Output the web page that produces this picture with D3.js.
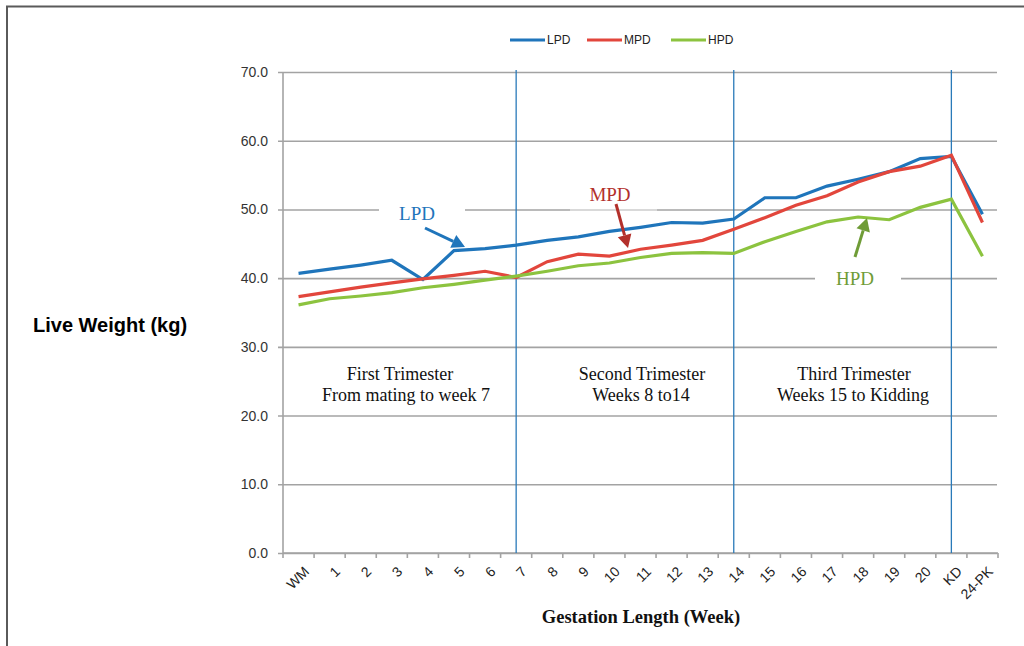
<!DOCTYPE html>
<html>
<head>
<meta charset="utf-8">
<script src="https://cdn.jsdelivr.net/npm/d3@7"></script>
<style>
  html, body { margin: 0; padding: 0; background: #fff; }
  svg { display: block; }
</style>
</head>
<body>
<svg id="chart" width="1024" height="646"></svg>
<script>
const categories = ["WM","1","2","3","4","5","6","7","8","9","10","11","12","13","14","15","16","17","18","19","20","KD","24-PK"];
const lpd = [40.7, 41.3, 41.9, 42.6, 39.8, 44.0, 44.3, 44.8, 45.5, 46.0, 46.8, 47.4, 48.1, 48.0, 48.6, 51.7, 51.7, 53.4, 54.4, 55.5, 57.4, 57.7, 49.3];
const mpd = [37.3, 38.0, 38.7, 39.3, 39.9, 40.4, 41.0, 40.1, 42.4, 43.5, 43.2, 44.2, 44.8, 45.5, 47.1, 48.8, 50.6, 52.0, 54.0, 55.5, 56.3, 57.9, 48.1];
const hpd = [36.1, 37.0, 37.4, 37.9, 38.6, 39.1, 39.7, 40.3, 41.0, 41.8, 42.2, 43.0, 43.6, 43.7, 43.6, 45.3, 46.8, 48.2, 48.9, 48.5, 50.3, 51.5, 43.2];
const yTicks = [0, 10, 20, 30, 40, 50, 60, 70];
const seriesNames = ["LPD", "MPD", "HPD"];
const seriesColors = ["#1f75bb", "#e2463c", "#8cc33f"];
const dividers = ["7", "14", "KD"];
const trimesterLines = [
  ["First Trimester", "From mating to week 7"],
  ["Second Trimester", "Weeks 8 to14"],
  ["Third Trimester", "Weeks 15 to Kidding"]
];

(function () {
const svg = d3.select("#chart");
const pLeft = 283, pRight = 998, pTop = 72, pBottom = 553;
const x = d3.scaleBand().domain(categories).range([pLeft, pRight]).padding(0);
const y = d3.scaleLinear().domain([0, 70]).range([pBottom, pTop]);
const cx = c => x(c) + x.bandwidth() / 2;

// frame
svg.append("line").attr("x1", 6).attr("x2", 1024).attr("y1", 6.5).attr("y2", 6.5)
  .attr("stroke", "#5a5a5a").attr("stroke-width", 2);
svg.append("line").attr("x1", 7).attr("x2", 7).attr("y1", 6).attr("y2", 646)
  .attr("stroke", "#5a5a5a").attr("stroke-width", 2);

// gridlines + y axis
const yAxis = d3.axisLeft(y).tickValues(yTicks).tickFormat(d3.format(".1f"))
  .tickSizeInner(-(pRight - 1 - pLeft)).tickSizeOuter(0).tickPadding(15);
const gy = svg.append("g").attr("transform", `translate(${pLeft},0)`).call(yAxis);
gy.select(".domain").remove();
gy.selectAll(".tick line").attr("stroke", "#a3a3a3").attr("stroke-width", 1.6).attr("x1", -5);
gy.selectAll(".tick text").attr("fill", "#333").attr("font-family", "Liberation Sans, Arial, sans-serif")
  .attr("font-size", 14);
svg.append("line").attr("x1", pLeft).attr("x2", pLeft).attr("y1", pTop).attr("y2", pBottom)
  .attr("stroke", "#a3a3a3").attr("stroke-width", 1.6);

// x axis
svg.append("line").attr("x1", pLeft).attr("x2", pRight).attr("y1", pBottom).attr("y2", pBottom)
  .attr("stroke", "#a3a3a3").attr("stroke-width", 1.6);
const bounds = categories.map(c => x(c)).concat([pRight]);
svg.append("g").selectAll("line").data(bounds).join("line")
  .attr("x1", d => d).attr("x2", d => d).attr("y1", pBottom).attr("y2", pBottom + 5)
  .attr("stroke", "#a3a3a3").attr("stroke-width", 1.6);
svg.append("g").selectAll("text").data(categories).join("text")
  .attr("transform", d => `translate(${cx(d) + 8},${pBottom + 16}) rotate(-45)`)
  .attr("text-anchor", "end").attr("dy", "0.35em")
  .attr("font-family", "Liberation Sans, Arial, sans-serif").attr("font-size", 14).attr("fill", "#222")
  .text(d => d);

// annotation backgrounds (break gridlines)
svg.append("rect").attr("x", 379).attr("y", y(50) - 3).attr("width", 86).attr("height", 6).attr("fill", "#fff");
svg.append("rect").attr("x", 570).attr("y", y(50) - 3).attr("width", 87).attr("height", 6).attr("fill", "#fff").attr("opacity", 0.45);
svg.append("rect").attr("x", 815).attr("y", y(40) - 3).attr("width", 86).attr("height", 6).attr("fill", "#fff");

// trimester dividers
svg.append("g").selectAll("line").data(dividers).join("line")
  .attr("x1", d => cx(d)).attr("x2", d => cx(d)).attr("y1", pTop - 2).attr("y2", pBottom)
  .attr("stroke", "#2a7ab9").attr("stroke-width", 1.3);

// trimester labels
const trimX = [[400, 406], [642, 641], [854, 853]];
trimesterLines.forEach((t, k) => {
  t.forEach((ln, i) => {
    svg.append("text").attr("x", trimX[k][i]).attr("y", 380 + i * 21)
      .attr("text-anchor", "middle").attr("font-family", "Liberation Serif, Times New Roman, serif")
      .attr("font-size", 18).attr("fill", "#111").text(ln);
  });
});

// series lines
const series = [lpd, mpd, hpd];
const line = d3.line().x((d, i) => cx(categories[i])).y(d => y(d));
series.forEach((s, k) => {
  svg.append("path").datum(s).attr("d", line).attr("fill", "none")
    .attr("stroke", seriesColors[k]).attr("stroke-width", 3.2).attr("stroke-linejoin", "miter");
});

// annotations with arrows
function arrow(x1, y1, x2, y2, color) {
  const ang = Math.atan2(y2 - y1, x2 - x1);
  const hl = 13, hw = 7;
  const bx = x2 - hl * Math.cos(ang), by = y2 - hl * Math.sin(ang);
  svg.append("line").attr("x1", x1).attr("y1", y1).attr("x2", bx).attr("y2", by)
    .attr("stroke", color).attr("stroke-width", 3);
  const px = -Math.sin(ang) * hw, py = Math.cos(ang) * hw;
  svg.append("path").attr("d", `M${x2},${y2}L${bx + px},${by + py}L${bx - px},${by - py}Z`).attr("fill", color);
}
const annFont = "Liberation Serif, Times New Roman, serif";
svg.append("text").attr("x", 417).attr("y", 220).attr("text-anchor", "middle").attr("font-family", annFont)
  .attr("font-size", 19).attr("fill", "#1f75bb").text("LPD");
arrow(425, 228, 465, 247, "#1f75bb");
svg.append("text").attr("x", 610).attr("y", 201).attr("text-anchor", "middle").attr("font-family", annFont)
  .attr("font-size", 19).attr("fill", "#b3302b").text("MPD");
arrow(616, 204, 628, 248, "#b3302b");
svg.append("text").attr("x", 855).attr("y", 285).attr("text-anchor", "middle").attr("font-family", annFont)
  .attr("font-size", 19).attr("fill", "#6f9c37").text("HPD");
arrow(855, 257, 867, 218, "#6f9c37");

// legend
const lg = svg.append("g");
const legX = [510, 587, 671];
seriesNames.forEach((n, i) => {
  lg.append("line").attr("x1", legX[i]).attr("x2", legX[i] + 35).attr("y1", 40).attr("y2", 40)
    .attr("stroke", seriesColors[i]).attr("stroke-width", 3);
  lg.append("text").attr("x", legX[i] + 37).attr("y", 40).attr("dy", "0.35em")
    .attr("font-family", "Liberation Sans, Arial, sans-serif").attr("font-size", 12).attr("fill", "#222").text(n);
});

// axis titles
svg.append("text").attr("x", 33).attr("y", 332).attr("font-family", "Liberation Sans, Arial, sans-serif")
  .attr("font-weight", "bold").attr("font-size", 20).attr("fill", "#000").text("Live Weight (kg)");
svg.append("text").attr("x", 641).attr("y", 623).attr("text-anchor", "middle")
  .attr("font-family", "Liberation Serif, Times New Roman, serif").attr("font-weight", "bold")
  .attr("font-size", 18.5).attr("fill", "#111").text("Gestation Length (Week)");
})();
</script>
</body>
</html>
